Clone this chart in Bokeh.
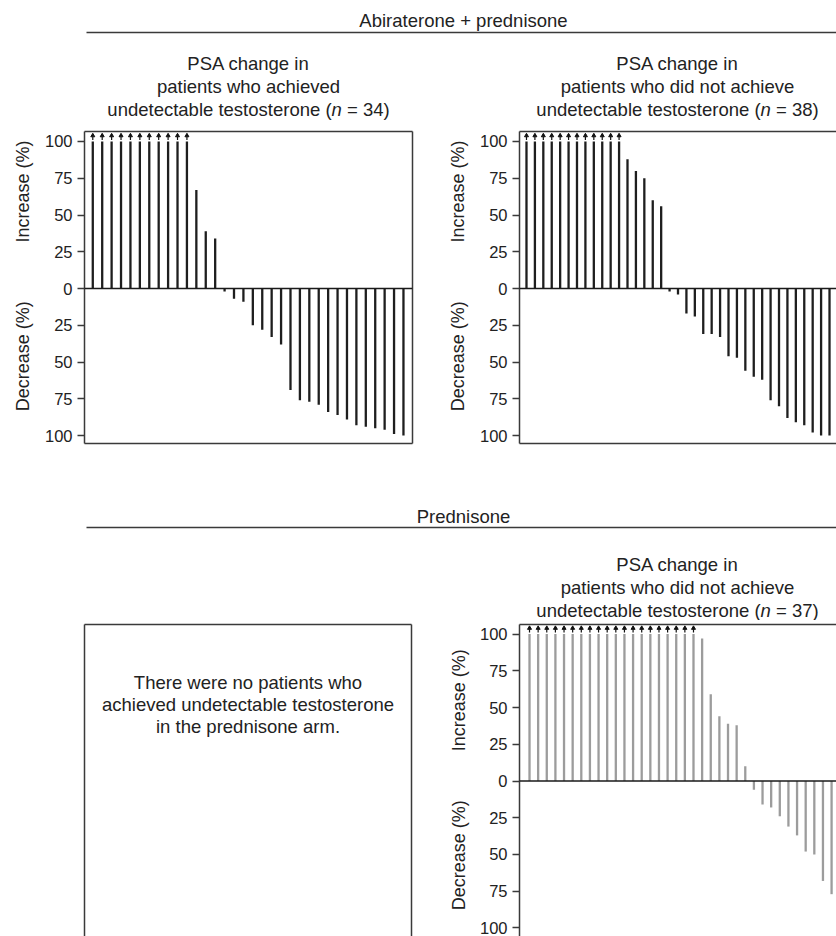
import math
from bokeh.plotting import figure
from bokeh.models import Range1d, FixedTicker, LinearAxis, Span
from bokeh.layouts import column, row
from bokeh.embed import file_html
from bokeh.resources import INLINE
from bokeh.core.properties import value

FONT = "Liberation Sans"

# ---------------- data (PSA change, %; positive = increase) ----------------
# Abiraterone + prednisone, achieved undetectable testosterone (n = 34)
abi_undet_pct = [100, 100, 100, 100, 100, 100, 100, 100, 100, 100, 100,
                 67, 39, 34, -2, -7, -9, -25, -28, -33, -38, -69, -76, -77,
                 -79, -84, -86, -89, -93, -94, -95, -96, -99, -100]
abi_undet_capped = [True, True, True, True, True, True, True, True, True, True, True,
                    False, False, False, False, False, False, False, False, False,
                    False, False, False, False, False, False, False, False, False,
                    False, False, False, False, False]

# Abiraterone + prednisone, did not achieve undetectable testosterone (n = 38, 37 visible)
abi_det_pct = [100, 100, 100, 100, 100, 100, 100, 100, 100, 100, 100, 100,
               88, 80, 75, 60, 56, -2, -4, -17, -19, -31, -31, -33, -46, -47,
               -56, -60, -62, -76, -80, -88, -91, -93, -98, -100, -100]
abi_det_capped = [True, True, True, True, True, True, True, True, True, True, True, True,
                  False, False, False, False, False, False, False, False, False,
                  False, False, False, False, False, False, False, False, False,
                  False, False, False, False, False, False, False]

# Prednisone, did not achieve undetectable testosterone (n = 37, 36 visible)
pred_det_pct = [100, 100, 100, 100, 100, 100, 100, 100, 100, 100,
                100, 100, 100, 100, 100, 100, 100, 100, 100, 100,
                97, 59, 44, 39, 38, 10, -6, -16, -18, -24, -31, -37, -48, -50,
                -68, -77]
pred_det_capped = [True, True, True, True, True, True, True, True, True, True,
                   True, True, True, True, True, True, True, True, True, True,
                   False, False, False, False, False, False, False, False, False,
                   False, False, False, False, False, False, False]

tick_values = [-100, -75, -50, -25, 0, 25, 50, 75, 100]
tick_labels = ["100", "75", "50", "25", "0", "25", "50", "75", "100"]

header_top = "Abiraterone + prednisone"
header_bottom = "Prednisone"
sub_line1 = "PSA change in"
sub_line2_a = "patients who achieved"
sub_line2_b = "patients who did not achieve"
sub_line3 = "undetectable testosterone ("
n_values = ["34", "38", "37"]
empty_text = ["There were no patients who",
              "achieved undetectable testosterone",
              "in the prednisone arm."]
axis_texts = ["Increase (%)", "Decrease (%)"]

TXT = "#222222"
FRAME = "#3a3a3a"
TITLE_SIZE = 18.5

# Arial/Liberation Sans advance widths (per 1000 em) for centring the mixed-style line
W = {' ': 278, '(': 333, ')': 333, '=': 584, '3': 556, '4': 556, '7': 556, '8': 556,
     'u': 556, 'n': 556, 'd': 556, 'e': 556, 't': 278, 'c': 500, 'a': 556, 'b': 556,
     'l': 222, 's': 500, 'o': 556, 'r': 333}


def tw(s, size=TITLE_SIZE):
    return sum(W.get(ch, 556) for ch in s) * size / 1000.0


def base_fig(width, height, xr, yr, **kw):
    p = figure(width=width, height=height, x_range=xr, y_range=yr,
               output_backend="svg", toolbar_location=None,
               x_axis_location=None, y_axis_location=None, **kw)
    p.grid.visible = False
    p.outline_line_color = None
    p.background_fill_color = "white"
    p.border_fill_color = "white"
    return p


def add_text(p, xs, ys, texts, align="center", style="normal", size=TITLE_SIZE,
             baseline="alphabetic", angle=0.0):
    p.text(x=xs, y=ys, text=texts, text_align=align, text_baseline=baseline,
           text_font=value(FONT), text_font_size=value(f"{size}px"),
           text_font_style=style, text_color=TXT, angle=angle)


def subtitle(p, cx, y0, line2, n):
    add_text(p, [cx, cx], [y0, y0 + 23], [sub_line1, line2])
    rest = "= " + n + ")"
    total = tw(sub_line3) + tw("n") + tw(" ") + tw(rest)
    x0 = cx - total / 2.0
    add_text(p, [x0], [y0 + 46], [sub_line3], align="left")
    add_text(p, [x0 + tw(sub_line3)], [y0 + 46], ["n"], align="left", style="italic")
    add_text(p, [x0 + tw(sub_line3) + tw("n") + tw(" ")], [y0 + 46], [rest], align="left")


def header(top, bottom, title, title_base, line_y):
    p = base_fig(836, bottom - top, Range1d(0, 836), Range1d(bottom, top), min_border=0)
    add_text(p, [463], [title_base], [title])
    p.segment(x0=[86], y0=[line_y], x1=[840], y1=[line_y], line_color=FRAME, line_width=1.6)
    return p


def border_axis():
    return LinearAxis(ticker=FixedTicker(ticks=[]), major_tick_out=0, major_tick_in=0,
                      minor_tick_out=0, minor_tick_in=0, major_label_standoff=0,
                      axis_label_standoff=0, major_label_text_font_size="0px",
                      axis_line_color=FRAME, axis_line_width=1.5)


def y_axis():
    return LinearAxis(ticker=FixedTicker(ticks=tick_values),
                      major_label_overrides={v: l for v, l in zip(tick_values, tick_labels)},
                      major_tick_out=7, major_tick_in=0, minor_tick_out=0, minor_tick_in=0,
                      major_tick_line_color=FRAME, major_tick_line_width=1.3,
                      major_label_standoff=5, major_label_text_font=FONT,
                      major_label_text_font_size="16.5px", major_label_text_color=TXT,
                      axis_line_color=FRAME, axis_line_width=1.5)


def label_strip(x0, width, yr, height, mbt, mbb, cx, inc_y, dec_y):
    p = base_fig(width, height, Range1d(x0, x0 + width), yr,
                 min_border_left=0, min_border_right=0,
                 min_border_top=mbt, min_border_bottom=mbb)
    add_text(p, [cx, cx], [inc_y, dec_y], axis_texts, baseline="middle",
             size=18, angle=math.pi / 2)
    return p


def panel(vals, capped, color, xr, yr, width, height, mbl, mbr, mbt, mbb, sides):
    p = base_fig(width, height, Range1d(*xr), yr,
                 min_border_left=mbl, min_border_right=mbr,
                 min_border_top=mbt, min_border_bottom=mbb)
    p.add_layout(y_axis(), "left")
    for side in sides:
        p.add_layout(border_axis(), side)
    xs = list(range(1, len(vals) + 1))
    p.segment(x0=xs, y0=[0] * len(vals), x1=xs, y1=vals, line_color=color, line_width=2.3)
    p.add_layout(Span(location=0, dimension="width", line_color="#1a1a1a", line_width=1.6))
    cx = [x for x, c in zip(xs, capped) if c]
    p.segment(x0=cx, y0=[101.0] * len(cx), x1=cx, y1=[103.3] * len(cx),
              line_color="#111111", line_width=1.2)
    p.scatter(x=cx, y=[104.0] * len(cx), marker="triangle", size=4,
              fill_color="#111111", line_color="#111111")
    return p


# ---------------- header 1 (screen y 0..125) ----------------
h1 = header(0, 125, header_top, 20, 32)
subtitle(h1, 248, 63, sub_line2_a, n_values[0])
subtitle(h1, 677, 63, sub_line2_b, n_values[1])

# ---------------- row 1 (screen y 125..470), frames 131..443 ----------------
yr_top1 = Range1d(-105.4, 106.8)
yr_top2 = Range1d(-105.4, 106.8)
l1 = label_strip(0, 34, yr_top1, 345, 6, 27, 22, 66, -46)
p1 = panel(abi_undet_pct, abi_undet_capped, "#1e1e1e", (0.12, 34.96), yr_top1,
           406, 345, 50, 28, 6, 27, ["above", "below", "right"])
l2 = label_strip(440, 34, yr_top2, 345, 6, 27, 457, 66, -46)
p2 = panel(abi_det_pct, abi_det_capped, "#1e1e1e", (0.17, 37.83), yr_top2,
           362, 345, 45, 0, 6, 27, ["above", "below"])

# ---------------- header 2 (screen y 470..620) ----------------
h2 = header(470, 620, header_bottom, 516, 527)
subtitle(h2, 677, 564, sub_line2_b, n_values[2])

# ---------------- row 2 (screen y 620..936), frames 624..936 ----------------
p3 = base_fig(440, 316, Range1d(84, 411), Range1d(936, 624),
              min_border_left=84, min_border_right=29, min_border_top=4, min_border_bottom=0)
for side in ("left", "above", "right"):
    p3.add_layout(border_axis(), side)
add_text(p3, [247.5, 247.5, 247.5], [682, 704, 726], empty_text)

yr_bot = Range1d(-105.8, 106.5)
l4 = label_strip(440, 34, yr_bot, 316, 4, 0, 458, 55, -50.5)
p4 = panel(pred_det_pct, pred_det_capped, "#9c9c9c", (-0.16, 36.57), yr_bot,
           362, 316, 45, 0, 4, 0, ["above"])

layout = column(h1, row(l1, p1, l2, p2), h2, row(p3, l4, p4))

with open("out.html", "w") as f:
    f.write(file_html(layout, INLINE))
